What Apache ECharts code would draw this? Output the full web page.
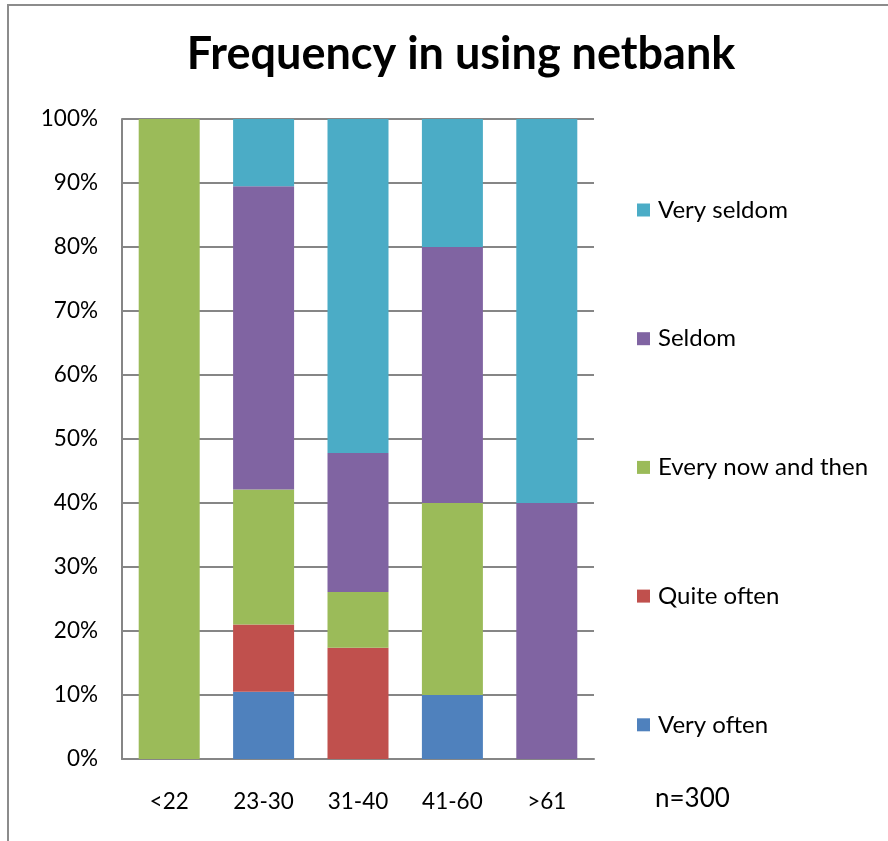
<!DOCTYPE html>
<html>
<head>
<meta charset="utf-8">
<script src="https://cdn.jsdelivr.net/npm/echarts@6/dist/echarts.min.js"></script>
<style>
  html, body { margin: 0; padding: 0; background: #fff; }
  #main { width: 888px; height: 841px; }
</style>
</head>
<body>
<div id="main"></div>
<script>
  // age groups
  var categories = ['<22', '23-30', '31-40', '41-60', '>61'];
  // share of answers per age group, in percent
  var veryOften = [0, 10.5, 0, 10, 0];
  var quiteOften = [0, 10.5, 17.4, 0, 0];
  var everyNowAndThen = [100, 21.1, 8.7, 30, 0];
  var seldom = [0, 47.4, 21.7, 40, 40];
  var verySeldom = [0, 10.5, 52.2, 20, 60];
  var yTicks = [0, 10, 20, 30, 40, 50, 60, 70, 80, 90, 100];

  var font = 'Lato';
  var chart = echarts.init(document.getElementById('main'));

  function bar(name, data, color) {
    return {
      name: name,
      type: 'bar',
      stack: 'total',
      barWidth: 61,
      data: data,
      itemStyle: { color: color },
      emphasis: { disabled: true }
    };
  }

  chart.setOption({
    animation: false,
    backgroundColor: '#fff',
    textStyle: { fontFamily: font },
    title: {
      text: 'Frequency in using netbank',
      left: 456,
      top: 27,
      textAlign: 'center',
      textStyle: { fontFamily: font, fontSize: 45, fontWeight: 'bold', color: '#000' }
    },
    legend: {
      orient: 'vertical',
      left: 637,
      top: 198,
      padding: 0,
      itemWidth: 13,
      itemHeight: 13,
      itemGap: 104.7,
      icon: 'rect',
      data: ['Very seldom', 'Seldom', 'Every now and then', 'Quite often', 'Very often'],
      textStyle: { fontFamily: font, fontSize: 24, color: '#000', lineHeight: 20, padding: [0, 0, 0, 3] }
    },
    grid: {
      left: 122,
      right: 294,
      top: 119,
      bottom: 82,
      containLabel: false
    },
    xAxis: {
      type: 'category',
      data: categories,
      axisLine: { show: true, lineStyle: { color: '#868686', width: 2 } },
      axisTick: { show: false },
      axisLabel: { margin: 31, fontFamily: font, fontSize: 22.5, color: '#000' }
    },
    yAxis: {
      type: 'value',
      min: 0,
      max: 100,
      interval: 10,
      axisLine: { show: true, lineStyle: { color: '#868686', width: 2 } },
      axisTick: { show: false },
      splitLine: { show: true, lineStyle: { color: '#868686', width: 2 } },
      axisLabel: {
        margin: 24,
        fontFamily: font,
        fontSize: 22.5,
        color: '#000',
        formatter: function (v) { return yTicks.indexOf(v) >= 0 ? v + '%' : ''; }
      }
    },
    graphic: [
      {
        type: 'rect',
        shape: { x: 8, y: 5, width: 900, height: 900 },
        style: { fill: 'none', stroke: '#8c8c8c', lineWidth: 2 },
        silent: true
      },
      {
        type: 'text',
        left: 655,
        top: 786,
        style: { text: 'n=300', fontFamily: font, fontSize: 26, fill: '#000' }
      }
    ],
    series: [
      bar('Very often', veryOften, '#4F81BD'),
      bar('Quite often', quiteOften, '#C0504D'),
      bar('Every now and then', everyNowAndThen, '#9BBB59'),
      bar('Seldom', seldom, '#8064A2'),
      bar('Very seldom', verySeldom, '#4BACC6')
    ]
  });
</script>
</body>
</html>
